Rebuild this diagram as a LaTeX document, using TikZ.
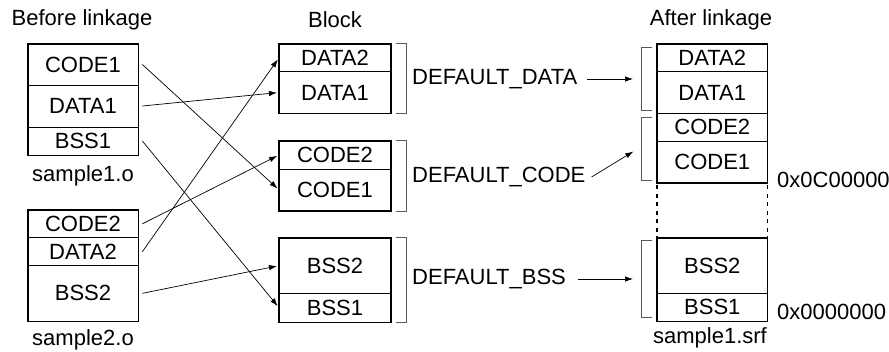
\documentclass[tikz,border=0pt]{standalone}
\usepackage{fontspec}
\setmainfont{Liberation Sans}
\usetikzlibrary{arrows.meta}
\begin{document}
\begin{tikzpicture}[x=1pt,y=-1pt,
  txt/.style={font=\fontsize{22}{25}\selectfont},
  cell/.style={txt, draw, line width=0.7pt, inner sep=0pt, minimum width=110pt},
  outer/.style={line width=1.6pt},
  lbl/.style={txt, inner sep=0pt},
  conn/.style={line width=0.7pt, shorten >=2pt, -{Latex[length=8pt,width=5.5pt]}},
  brk/.style={draw=black!65, line width=0.8pt}]
\useasboundingbox (0,0) rectangle (889,352);

% titles
\node[lbl] (tbefore) at (82,20) {Before linkage};
\node[lbl] (tblock) at (335,20) {Block};
\node[lbl] (tafter) at (711,20) {After linkage};

% left: sample1.o
\node[cell, minimum height=41pt] (c1) at (83,64.5) {CODE1};
\node[cell, minimum height=42pt] (d1) at (83,106) {DATA1};
\node[cell, minimum height=28pt] (b1) at (83,141) {BSS1};
\draw[outer] (c1.north west) rectangle (b1.south east);
\node[lbl] (s1) at (83,176) {sample1.o};

% left: sample2.o
\node[cell, minimum height=27.7pt] (c2) at (83,223.85) {CODE2};
\node[cell, minimum height=28pt] (d2) at (83,251.7) {DATA2};
\node[cell, minimum height=55.3pt] (b2) at (83,293.35) {BSS2};
\draw[outer] (c2.north west) rectangle (b2.south east);
\node[lbl] (s2) at (83,340) {sample2.o};

% middle blocks
\node[cell, minimum width=111.4pt, minimum height=27.7pt] (md2) at (335,57.85) {DATA2};
\node[cell, minimum width=111.4pt, minimum height=41.6pt] (md1) at (335,92.5) {DATA1};
\draw[outer] (md2.north west) rectangle (md1.south east);
\node[cell, minimum width=111.4pt, minimum height=28pt] (mc2) at (335,155) {CODE2};
\node[cell, minimum width=111.4pt, minimum height=41.7pt] (mc1) at (335,189.85) {CODE1};
\draw[outer] (mc2.north west) rectangle (mc1.south east);
\node[cell, minimum width=111.4pt, minimum height=55.3pt] (mb2) at (335,265.65) {BSS2};
\node[cell, minimum width=111.4pt, minimum height=28.7pt] (mb1) at (335,307.65) {BSS1};
\draw[outer] (mb2.north west) rectangle (mb1.south east);

% middle brackets
\draw[brk] ([xshift=4.5pt]md2.north east) -- ++(10.5,0) |- ([xshift=4.5pt]md1.south east);
\draw[brk] ([xshift=4.5pt]mc2.north east) -- ++(10.5,0) |- ([xshift=4.5pt]mc1.south east);
\draw[brk] ([xshift=4.5pt]mb2.north east) -- ++(10.5,0) |- ([xshift=4.5pt]mb1.south east);

% section labels
\node[lbl, anchor=west] (ldata) at (412,79) {DEFAULT\_DATA};
\node[lbl, anchor=west] (lcode) at (412,177) {DEFAULT\_CODE};
\node[lbl, anchor=west] (lbss) at (412,279) {DEFAULT\_BSS};

% right: sample1.srf
\node[cell, minimum height=27.7pt] (rd2) at (712.3,57.85) {DATA2};
\node[cell, minimum height=41.6pt] (rd1) at (712.3,92.5) {DATA1};
\node[cell, minimum height=27.7pt] (rc2) at (712.3,127.15) {CODE2};
\node[cell, minimum height=41.7pt] (rc1) at (712.3,161.85) {CODE1};
\draw[outer] (rd2.north west) rectangle (rc1.south east);
\node[cell, minimum height=55.3pt] (rb2) at (712.3,265.65) {BSS2};
\node[cell, minimum height=27.7pt] (rb1) at (712.3,307.15) {BSS1};
\draw[outer] (rb2.north west) rectangle (rb1.south east);
\draw[line width=1.4pt, dash pattern=on 4pt off 4.5pt, dash phase=-2pt] (rc1.south west) -- (rb2.north west);
\draw[line width=1.4pt, dash pattern=on 4pt off 4.5pt, dash phase=-2pt] (rc1.south east) -- (rb2.north east);
\node[lbl] (s3) at (710,338) {sample1.srf};
\node[lbl, anchor=west] (a1) at (777,180) {0x0C00000};
\node[lbl, anchor=west] (a0) at (777,312) {0x0000000};

% right brackets
\draw[brk] (651.7,47) -| (641.7,110.7) -- (651.7,110.7);
\draw[brk] (651.7,117.3) -| (641.7,180) -- (651.7,180);
\draw[brk] (651.7,240.7) -| (641.7,317.7) -- (651.7,317.7);

% arrow targets
\coordinate (adata) at (635,79);
\coordinate (acode) at (635,150.5);
\coordinate (abss) at (635,279);
\draw[conn] ([xshift=10pt]ldata.east) -- (adata);
\draw[conn] ([xshift=6pt]lcode.east) -- (acode);
\draw[conn] ([xshift=12pt]lbss.east) -- (abss);

% crossing connectors
\draw[conn] ([xshift=4pt]c1.east) -- (mc1.west);
\draw[conn] ([xshift=4pt]d1.east) -- (md1.west);
\draw[conn] ([xshift=4pt]b1.east) -- (mb1.west);
\draw[conn] ([xshift=4pt]c2.east) -- (mc2.west);
\draw[conn] ([xshift=4pt]d2.east) -- (md2.west);
\draw[conn] ([xshift=4pt]b2.east) -- (mb2.west);
\end{tikzpicture}
\end{document}
